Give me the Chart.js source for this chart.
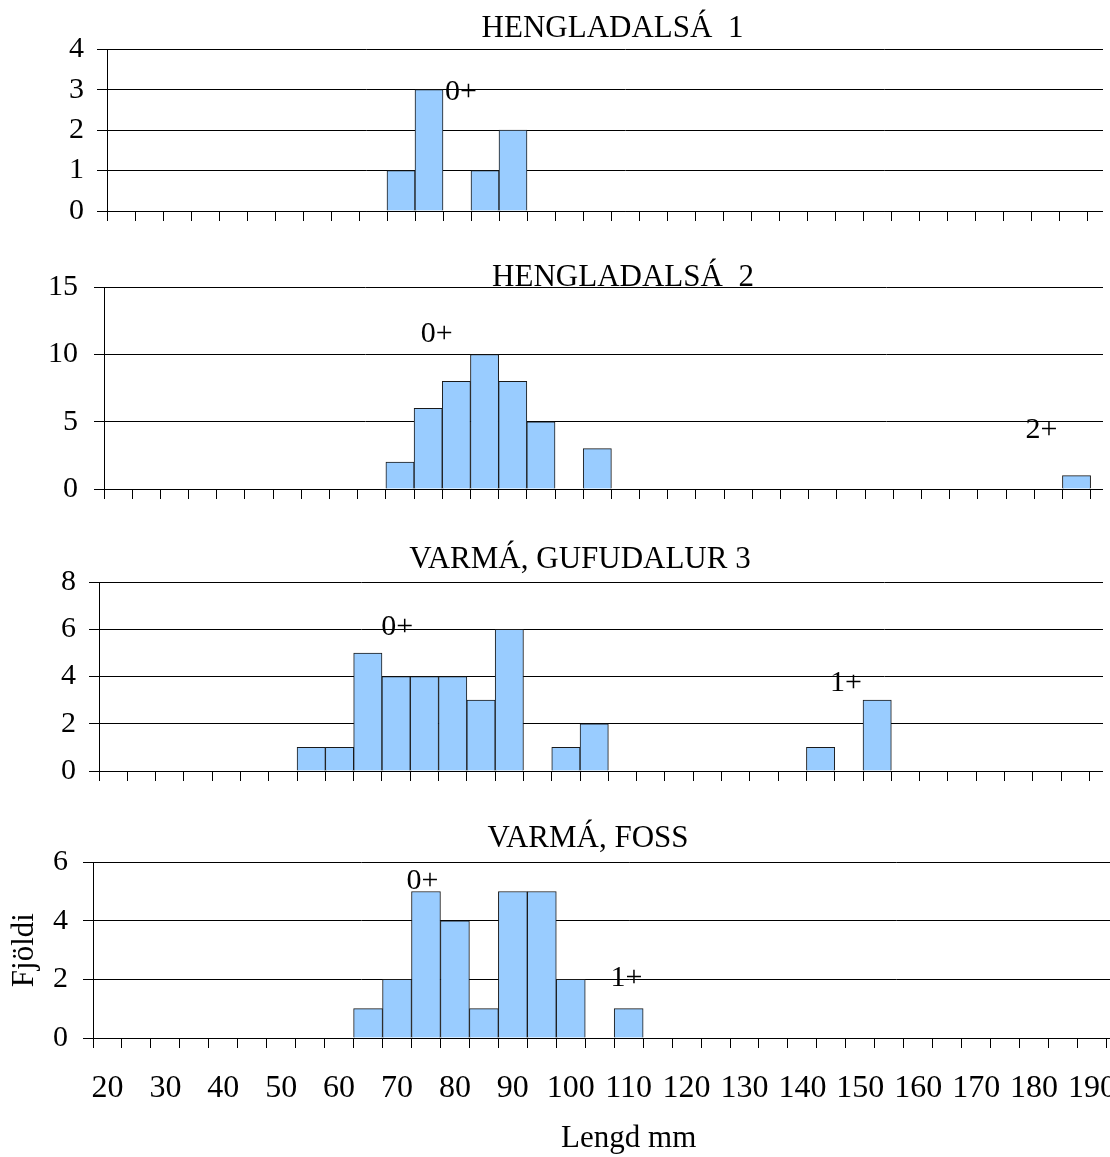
<!DOCTYPE html>
<html lang="is">
<head>
<meta charset="UTF-8">
<title>Lengdardreifing</title>
<style>
  body { margin: 0; background: #fff; }
  #wrap { position: relative; width: 1110px; height: 1157px; overflow: hidden; background: #fff; }
  .panel { position: absolute; left: 0; overflow: hidden; }
  canvas { display: block; }
</style>
<script src="https://cdn.jsdelivr.net/npm/chart.js@4"></script>
</head>
<body>
<div id="wrap">
  <div class="panel" style="top:0px;width:1103px;height:247px"><canvas id="c1" width="1225" height="247"></canvas></div>
  <div class="panel" style="top:240px;width:1103px;height:285px"><canvas id="c2" width="1246" height="285"></canvas></div>
  <div class="panel" style="top:520px;width:1103px;height:287px"><canvas id="c3" width="1160" height="287"></canvas></div>
  <div class="panel" style="top:800px;width:1110px;height:357px"><canvas id="c4" width="1176" height="357"></canvas></div>
</div>
<script>
// length classes (mm), 5 mm bins
const lengths = [20, 25, 30, 35, 40, 45, 50, 55, 60, 65, 70, 75, 80, 85, 90, 95, 100,
  105, 110, 115, 120, 125, 130, 135, 140, 145, 150, 155, 160, 165, 170, 175, 180, 185, 190, 195, 200];

// counts per bin (195/200 fall outside the picture)
const hengladalsa1 = [0, 0, 0, 0, 0, 0, 0, 0, 0, 0, 1, 3, 0, 1, 2, 0, 0,
  0, 0, 0, 0, 0, 0, 0, 0, 0, 0, 0, 0, 0, 0, 0, 0, 0, 0, null, null];
const hengladalsa2 = [0, 0, 0, 0, 0, 0, 0, 0, 0, 0, 2, 6, 8, 10, 8, 5, 0,
  3, 0, 0, 0, 0, 0, 0, 0, 0, 0, 0, 0, 0, 0, 0, 0, 0, 1, null, null];
const gufudalur3 = [0, 0, 0, 0, 0, 0, 0, 1, 1, 5, 4, 4, 4, 3, 6, 0, 1,
  2, 0, 0, 0, 0, 0, 0, 0, 1, 0, 3, 0, 0, 0, 0, 0, 0, 0, null, null];
const varmaFoss = [0, 0, 0, 0, 0, 0, 0, 0, 0, 1, 2, 5, 4, 1, 5, 5, 2,
  0, 1, 0, 0, 0, 0, 0, 0, 0, 0, 0, 0, 0, 0, 0, 0, 0, 0, null, null];

// age group labels: text, length (mm), count
const tags1 = [{ text: '0+', at: 80.7, n: 2.94 }];
const tags2 = [{ text: '0+', at: 76.5, n: 11.5 }, { text: '2+', at: 183.8, n: 4.4 }];
const tags3 = [{ text: '0+', at: 70.2, n: 6.1 }, { text: '1+', at: 149.5, n: 3.73 }];
const tags4 = [{ text: '0+', at: 74.4, n: 5.35 }, { text: '1+', at: 109.6, n: 2.05 }];

Chart.defaults.font.family = '"Liberation Serif", "Times New Roman", serif';
Chart.defaults.color = '#000';

const tagPlugin = {
  id: 'tags',
  afterDatasetsDraw(chart, args, opts) {
    const { ctx, scales: { x, y } } = chart;
    const step = lengths[1] - lengths[0];
    ctx.save();
    ctx.font = '30px "Liberation Serif", serif';
    ctx.fillStyle = '#000';
    ctx.textAlign = 'center';
    ctx.textBaseline = 'middle';
    (opts.items || []).forEach(t => {
      ctx.fillText(t.text, x.getPixelForValue((t.at - lengths[0]) / step), y.getPixelForValue(t.n));
    });
    ctx.restore();
  }
};

const panels = [
  { canvas: 'c1', title: 'HENGLADALSÁ  1', counts: hengladalsa1, max: 4, step: 1, tags: tags1,
    yWidth: 107, right: 82, tickPad: 13, titlePad: { top: 10, bottom: 2 }, xHeight: 36 },
  { canvas: 'c2', title: 'HENGLADALSÁ  2', counts: hengladalsa2, max: 15, step: 5, tags: tags2,
    yWidth: 104, right: 99, tickPad: 16, titlePad: { top: 19, bottom: -9 }, xHeight: 36 },
  { canvas: 'c3', title: 'VARMÁ, GUFUDALUR 3', counts: gufudalur3, max: 8, step: 2, tags: tags3,
    yWidth: 99, right: 14, tickPad: 13, titlePad: { top: 21, bottom: 4 }, xHeight: 36 },
  { canvas: 'c4', title: 'VARMÁ, FOSS', counts: varmaFoss, max: 6, step: 2, tags: tags4,
    yWidth: 93, right: 10, tickPad: 15, titlePad: { top: 20, bottom: 5 }, xHeight: 119, bottom: true }
];

function makeChart(p) {
  const last = p.bottom === true;
  return new Chart(document.getElementById(p.canvas), {
    type: 'bar',
    data: {
      labels: lengths,
      datasets: [{
        data: p.counts,
        backgroundColor: '#99ccff',
        borderColor: '#1a1a1a',
        borderWidth: 1,
        barPercentage: 1,
        categoryPercentage: 1
      }]
    },
    plugins: [tagPlugin],
    options: {
      responsive: false,
      animation: false,
      events: [],
      layout: { padding: 0 },
      plugins: {
        legend: { display: false },
        tooltip: { enabled: false },
        title: {
          display: true,
          text: p.title,
          color: '#000',
          font: { size: 31, weight: 'normal' },
          padding: p.titlePad
        },
        tags: { items: p.tags }
      },
      scales: {
        x: {
          grid: { display: true, offset: true, drawOnChartArea: false, drawTicks: true, tickLength: 10, color: '#000' },
          border: { display: true, color: '#000' },
          ticks: {
            display: last,
            autoSkip: false,
            maxRotation: 0,
            minRotation: 0,
            padding: 2,
            font: { size: 32, lineHeight: 2.4 },
            callback: (v, i) => (i % 2 === 0 ? lengths[i] : '')
          },
          title: { display: last, text: 'Lengd mm', font: { size: 31 }, padding: { top: 0, bottom: 0 } },
          afterFit: s => { s.height = p.xHeight; }
        },
        y: {
          min: 0,
          max: p.max,
          ticks: { stepSize: p.step, autoSkip: false, padding: p.tickPad, font: { size: 30 } },
          grid: { color: '#000', tickLength: 10 },
          border: { display: true, color: '#000' },
          title: { display: last, text: 'Fjöldi', font: { size: 31 }, padding: { top: 6, bottom: 0 } },
          afterFit: s => { s.width = p.yWidth; }
        },
        // empty axis that only reserves room on the right
        pad: {
          type: 'linear',
          position: 'right',
          display: true,
          grid: { display: false },
          border: { display: false },
          ticks: { display: false },
          afterFit: s => { s.width = p.right; }
        }
      }
    }
  });
}

panels.forEach(makeChart);
</script>
</body>
</html>
